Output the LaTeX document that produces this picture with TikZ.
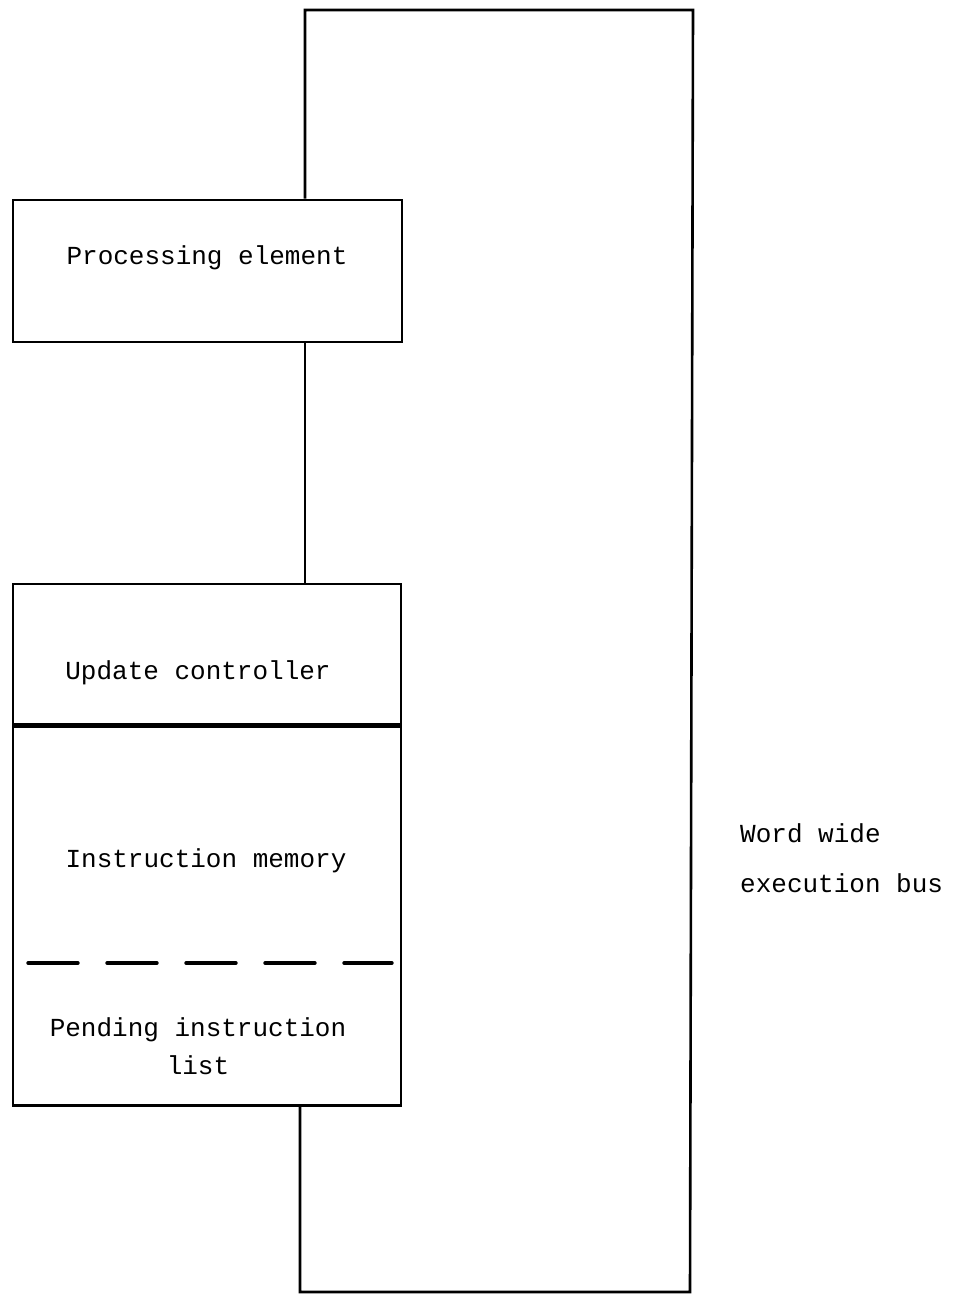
\documentclass[tikz,border=0pt]{standalone}
\usepackage{fontspec}
\setmainfont{Liberation Mono}
\begin{document}
\begin{tikzpicture}[x=1pt,y=-1pt,
  wire/.style={line width=2.6pt, line join=miter},
  block/.style={draw, line width=2.8pt, rectangle, inner sep=0pt},
  lbl/.style={font=\fontsize{26}{38}\selectfont, inner sep=0pt, anchor=base},
  sep/.style={line width=3.4pt, line cap=round, dash pattern=on 50pt off 29pt}]
  \useasboundingbox (0,0) rectangle (955,1296);

  % processing element
  \node[block, minimum width=389pt, minimum height=142pt] (pe) at (207.5,271) {};
  \node[lbl] (pet) at (207,264) {Processing element};

  % update controller / instruction memory stack
  \node[block, minimum width=388pt, minimum height=140pt] (uc) at (207,654) {};
  \node[block, minimum width=388pt, minimum height=379pt, anchor=north] (im) at (uc.south) {};
  \node[lbl] (uct) at (198,679) {Update controller};
  \node[lbl] (imt) at (206,867) {Instruction memory};
  \coordinate (dl) at (28,963);
  \coordinate (dr) at (392,963);
  \draw[sep] (dl) -- (dr);
  \node[lbl, align=center] (pil) at (198,1074) {Pending instruction\\list};

  % execution bus loop
  \coordinate (pin) at (305,200);
  \coordinate (tl) at (305,10);
  \coordinate (tr) at (693,10);
  \coordinate (br) at (690,1292);
  \coordinate (bl) at (300,1292);
  \draw[wire] (pe.north -| pin) -- (tl) -- (tr) -- (br) -- (bl) -- (im.south -| bl);
  \draw[wire] (pe.south -| pin) -- (uc.north -| pin);

  \node[lbl, anchor=base west, align=left] (bus) at (740,892) {Word wide\\[12pt]execution bus};
\end{tikzpicture}
\end{document}
